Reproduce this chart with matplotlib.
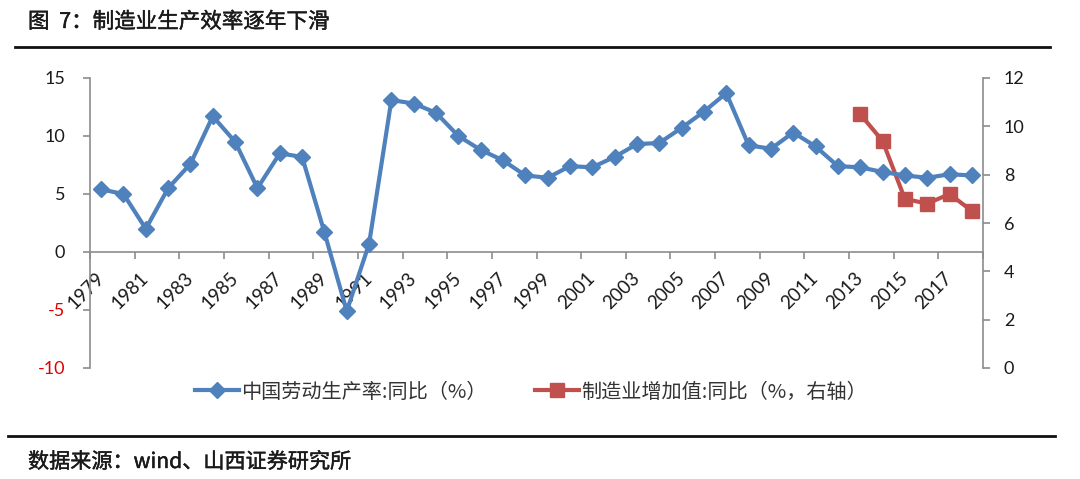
import numpy as np
import matplotlib.pyplot as plt
import matplotlib.patheffects as pe
from matplotlib.lines import Line2D

plt.rcParams['font.family'] = ['Noto Sans CJK SC', 'DejaVu Sans']

# -----------------------------
# data
# -----------------------------
years = list(range(1979, 2019))
productivity = [5.4, 5.0, 2.0, 5.5, 7.6, 11.7, 9.5, 5.5, 8.5, 8.2,
                1.7, -5.1, 0.7, 13.1, 12.8, 12.0, 10.0, 8.8, 7.9, 6.6,
                6.4, 7.4, 7.3, 8.2, 9.3, 9.4, 10.7, 12.1, 13.7, 9.2,
                8.9, 10.3, 9.1, 7.4, 7.3, 6.9, 6.6, 6.4, 6.7, 6.6]
mfg_years = [2013, 2014, 2015, 2016, 2017, 2018]
mfg_value_added = [10.5, 9.4, 7.0, 6.8, 7.2, 6.5]

left_ticks = [-10, -5, 0, 5, 10, 15]
right_ticks = [0, 2, 4, 6, 8, 10, 12]

blue = "#4F81BD"
red = "#C0504D"
grey = "#8C8C8C"

# -----------------------------
# figure
# -----------------------------
fig = plt.figure(figsize=(10.8, 4.79), dpi=100)
ax = fig.add_axes([90 / 1080, 1 - 368 / 479, 893 / 1080, 290 / 479])
ax2 = ax.twinx()

x = np.arange(len(years))
x_mfg = np.array([years.index(y) for y in mfg_years])

l1, = ax.plot(x, productivity, color=blue, lw=3, marker="D", ms=8.5,
              label="中国劳动生产率:同比（%）", zorder=3)
l2, = ax2.plot(x_mfg, mfg_value_added, color=red, lw=3, marker="s", ms=10,
               label="制造业增加值:同比（%，右轴）", zorder=3)

ax.set_xlim(-0.5, len(years) - 0.5)
ax.set_ylim(-10, 15)
ax2.set_ylim(0, 12)

# left axis
ax.set_yticks(left_ticks)
ax.set_yticklabels([str(v) for v in left_ticks], family=["Lato", "DejaVu Sans"], fontsize=13)
for lab, v in zip(ax.get_yticklabels(), left_ticks):
    lab.set_color("#E00000" if v < 0 else "#1A1A1A")
ax.tick_params(axis="y", pad=13)

# right axis
ax2.set_yticks(right_ticks)
ax2.set_yticklabels([str(v) for v in right_ticks], family=["Lato", "DejaVu Sans"],
                    fontsize=13, color="#1A1A1A")
ax2.tick_params(axis="y", pad=10)

# category axis at zero, ticks between every second category
ax.spines["bottom"].set_position(("data", 0))
ax.set_xticks(x[::2])
ax.set_xticklabels([str(y) for y in years[::2]], rotation=45, ha="right",
                   va="center", rotation_mode="anchor",
                   family=["Lato", "DejaVu Sans"], fontsize=13.5, color="#1A1A1A")
ax.tick_params(axis="x", which="major", length=0, pad=17)
ax.set_xticks(np.arange(-0.5, len(years), 2), minor=True)
ax.tick_params(axis="x", which="minor", length=5, color=grey, width=1.2, direction="out")

for a in (ax, ax2):
    a.spines["top"].set_visible(False)
    a.tick_params(axis="y", length=5, color=grey, width=1.2)
ax.spines["right"].set_visible(False)
ax.spines["left"].set_color(grey)
ax.spines["bottom"].set_color(grey)
ax.spines["left"].set_linewidth(1.2)
ax.spines["bottom"].set_linewidth(1.2)
ax2.spines["left"].set_visible(False)
ax2.spines["bottom"].set_visible(False)
ax2.spines["right"].set_color(grey)
ax2.spines["right"].set_linewidth(1.2)
ax.set_zorder(ax2.get_zorder() + 1)
ax.patch.set_visible(False)

fig.legend(handles=[l1, l2], loc="center", bbox_to_anchor=(531 / 1080, 1 - 392 / 479),
           ncol=2, frameon=False, fontsize=14.5, handlelength=2.2,
           columnspacing=2.4, handletextpad=0.1, labelcolor="#333333")

# title, rules and source
heavy = [pe.withStroke(linewidth=0.3, foreground="#1A1A1A")]
fig.text(28 / 1080, 1 - 22 / 479, "图  7：制造业生产效率逐年下滑", fontsize=15.5,
         va="center", ha="left", color="#1A1A1A", path_effects=heavy)
fig.add_artist(Line2D([15 / 1080, 1050 / 1080], [1 - 47 / 479] * 2, color="#111111", lw=2))
fig.add_artist(Line2D([8 / 1080, 1055 / 1080], [1 - 436 / 479] * 2, color="#111111", lw=2))
fig.text(28 / 1080, 1 - 462 / 479, "数据来源：wind、山西证券研究所", fontsize=15.2,
         va="center", ha="left", color="#1A1A1A", path_effects=heavy)

fig.savefig("out.png", dpi=100)
